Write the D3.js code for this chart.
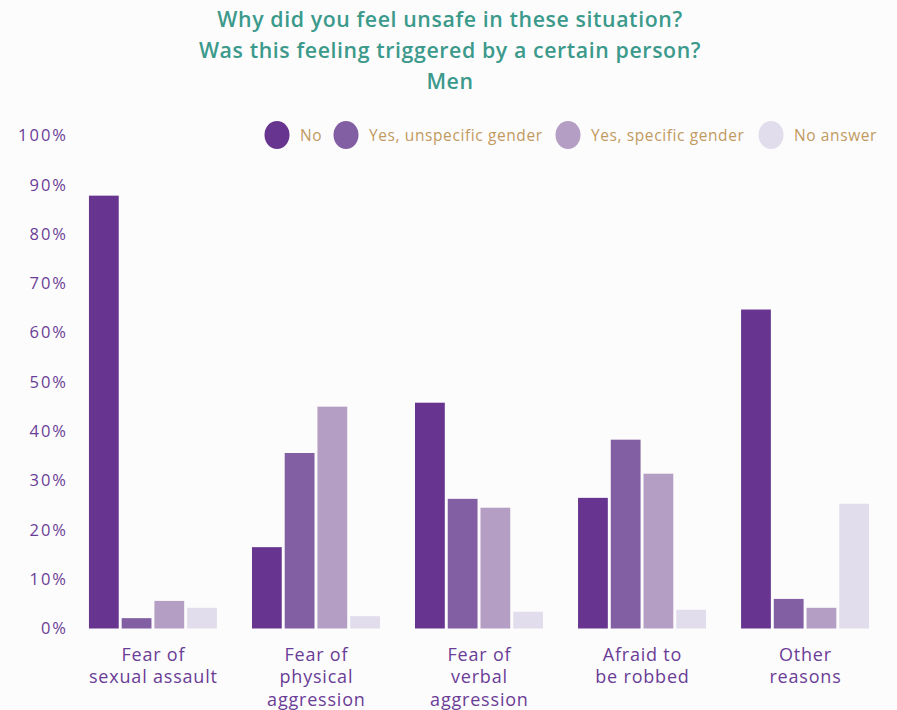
<!DOCTYPE html>
<html>
<head>
<meta charset="utf-8">
<script src="https://cdn.jsdelivr.net/npm/d3@7"></script>
<style>
  html, body { margin: 0; padding: 0; background: #fdfcfd; }
  svg { display: block; }
</style>
</head>
<body>
<svg id="chart" width="897" height="710"></svg>
<script>
// Reasons for feeling unsafe (men), split by whether a certain person triggered it
const categories = [
  ["Fear of", "sexual assault"],
  ["Fear of", "physical", "aggression"],
  ["Fear of", "verbal", "aggression"],
  ["Afraid to", "be robbed"],
  ["Other", "reasons"]
];
const seriesNames = ["No", "Yes, unspecific gender", "Yes, specific gender", "No answer"];
const seriesColors = ["#67358f", "#825fa3", "#b59ec3", "#e1ddec"];
const valuesNo          = [87.8, 16.5, 45.8, 26.5, 64.7];
const valuesUnspecific  = [2.1, 35.6, 26.3, 38.3, 6.0];
const valuesSpecific    = [5.6, 45.0, 24.5, 31.4, 4.2];
const valuesNoAnswer    = [4.2, 2.5, 3.4, 3.8, 25.3];
const yTicks = [0, 10, 20, 30, 40, 50, 60, 70, 80, 90, 100];
const titleLines = [
  "Why did you feel unsafe in these situation?",
  "Was this feeling triggered by a certain person?",
  "Men"
];

const series = [valuesNo, valuesUnspecific, valuesSpecific, valuesNoAnswer];
const fontFamily = "'Open Sans', 'Noto Sans', sans-serif";

const svg = d3.select("#chart");

const x0 = d3.scaleBand()
  .domain(d3.range(categories.length))
  .range([71.5, 886.5])
  .paddingInner(0.215)
  .paddingOuter(0.107);

const x1 = d3.scaleBand()
  .domain(d3.range(seriesNames.length))
  .range([0, x0.bandwidth()])
  .paddingInner(0.09);

const y = d3.scaleLinear().domain([0, 100]).range([628.5, 135.5]);

// Title
svg.append("g")
  .selectAll("text")
  .data(titleLines)
  .join("text")
  .attr("x", 450)
  .attr("y", (d, i) => 27 + i * 31)
  .attr("text-anchor", "middle")
  .attr("fill", "#3b9a8b")
  .attr("font-family", fontFamily)
  .attr("font-size", 21.3)
  .attr("font-weight", 600)
  .attr("letter-spacing", 0.6)
  .text(d => d);

// Y axis labels
const yAxis = d3.axisLeft(y)
  .tickValues(yTicks)
  .tickFormat(d => d + "%")
  .tickSize(0)
  .tickPadding(0);

const yg = svg.append("g")
  .attr("transform", "translate(68,0)")
  .call(yAxis);
yg.select(".domain").remove();
yg.selectAll("text")
  .attr("fill", "#6a3d96")
  .attr("font-family", fontFamily)
  .attr("font-size", 16.5)
  .attr("letter-spacing", 2);

// Bars
const groups = svg.append("g")
  .selectAll("g")
  .data(categories.map((c, i) => i))
  .join("g")
  .attr("transform", i => `translate(${x0(i)},0)`);

groups.selectAll("rect")
  .data(i => series.map((s, k) => ({ k, v: s[i] })))
  .join("rect")
  .attr("x", d => x1(d.k))
  .attr("width", x1.bandwidth())
  .attr("y", d => y(d.v))
  .attr("height", d => y(0) - y(d.v))
  .attr("fill", d => seriesColors[d.k]);

// Category labels (multi-line)
const xAxis = d3.axisBottom(x0).tickSize(0).tickFormat("");
const xg = svg.append("g")
  .attr("transform", `translate(0,${y(0)})`)
  .call(xAxis);
xg.select(".domain").remove();
xg.selectAll(".tick").each(function(i) {
  const t = d3.select(this).append("text")
    .attr("text-anchor", "middle")
    .attr("fill", "#6a3d96")
    .attr("font-family", fontFamily)
    .attr("font-size", 18)
    .attr("letter-spacing", 0.8);
  categories[i].forEach((line, j) => {
    t.append("tspan").attr("x", 0.4).attr("y", 32 + j * 22.5).text(line);
  });
});

// Legend
const legendItems = [
  { cx: 277, tx: 300 },
  { cx: 346, tx: 369 },
  { cx: 568, tx: 591 },
  { cx: 771, tx: 794 }
];
const legend = svg.append("g");
seriesNames.forEach((name, k) => {
  legend.append("ellipse")
    .attr("cx", legendItems[k].cx)
    .attr("cy", 135)
    .attr("rx", 12.5)
    .attr("ry", 14)
    .attr("fill", seriesColors[k]);
  legend.append("text")
    .attr("x", legendItems[k].tx)
    .attr("y", 140.5)
    .attr("fill", "#c19a5f")
    .attr("font-family", fontFamily)
    .attr("font-size", 15.5)
    .attr("letter-spacing", 0.6)
    .text(name);
});
</script>
</body>
</html>
